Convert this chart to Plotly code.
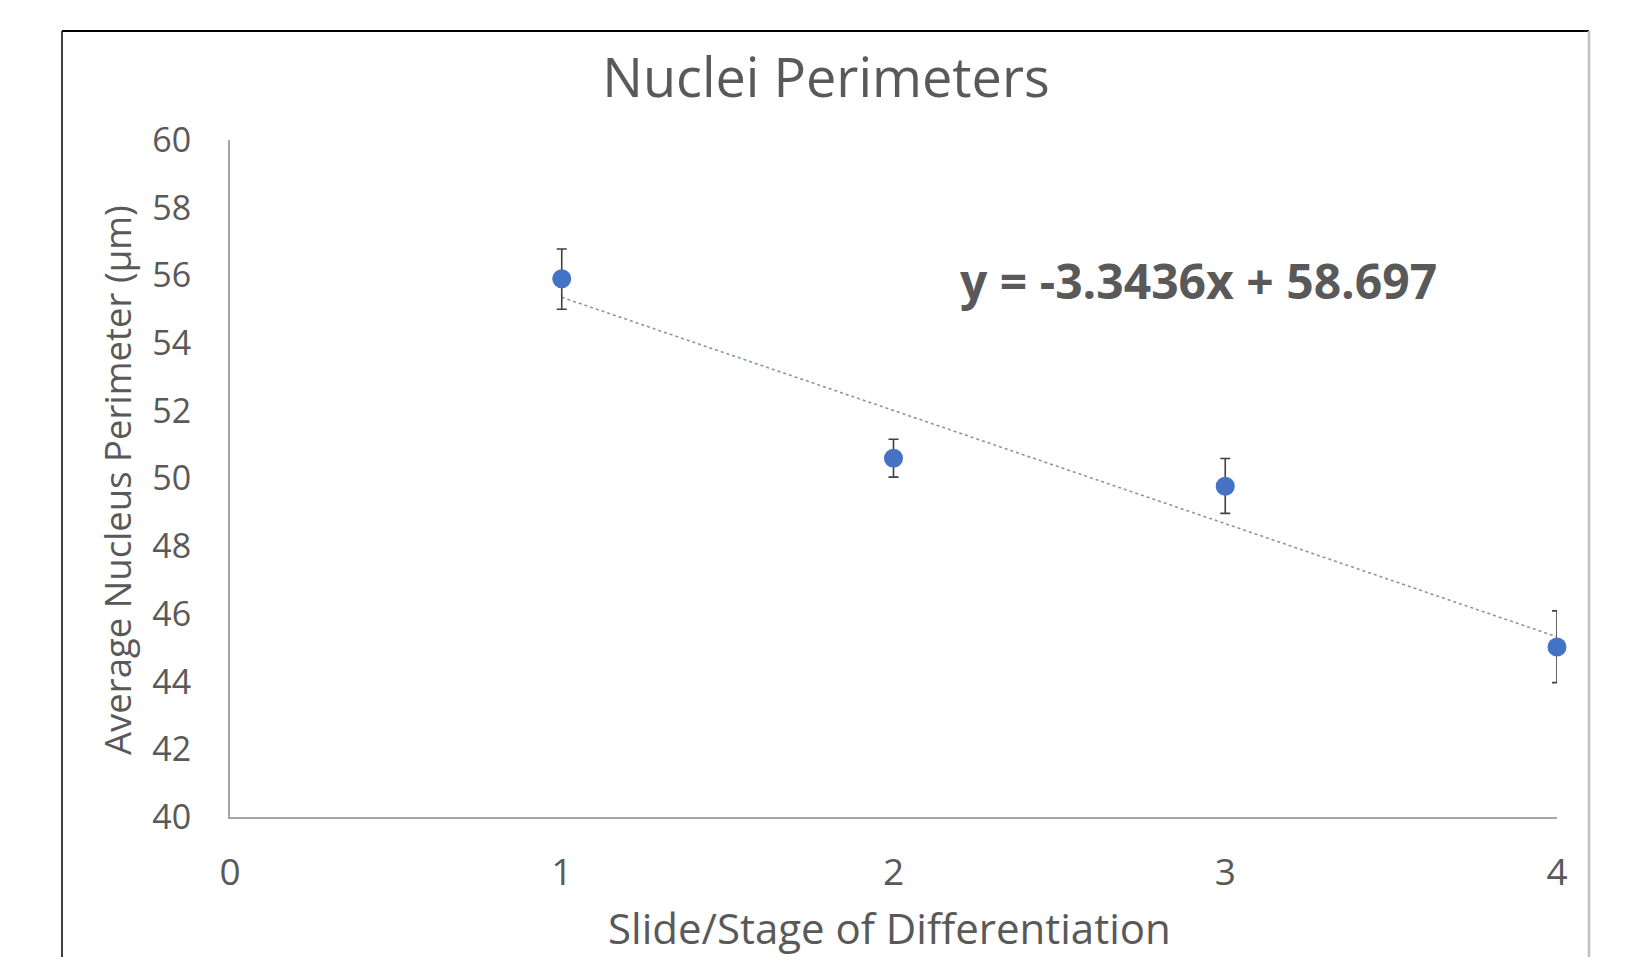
import plotly.graph_objects as go

# Data
stages = [1, 2, 3, 4]
mean_perimeter = [55.9, 50.6, 49.77, 45.02]
error_plus = [0.88, 0.56, 0.82, 1.07]
error_minus = [0.9, 0.56, 0.8, 1.05]
trend_slope = -3.3436
trend_intercept = 58.697
trend_x = [1, 4]
trend_y = [trend_slope * x + trend_intercept for x in trend_x]
x_ticks = [0, 1, 2, 3, 4]
y_ticks = [40, 42, 44, 46, 48, 50, 52, 54, 56, 58, 60]

FONT = "Open Sans"
TXT = "#595959"

fig = go.Figure()
fig.add_trace(go.Scatter(
    x=trend_x, y=trend_y, mode="lines",
    line=dict(color="#8497B0", width=1.6, dash="dot"),
    showlegend=False, hoverinfo="skip", cliponaxis=False,
))
fig.add_trace(go.Scatter(
    x=stages, y=mean_perimeter, mode="markers",
    marker=dict(color="#4472C4", size=19),
    error_y=dict(type="data", symmetric=False, array=error_plus, arrayminus=error_minus,
                 color="#404040", thickness=1.6, width=5),
    showlegend=False, cliponaxis=False,
))

W, H = 1625, 957
L, R, T, B = 230, 1625 - 1557, 140, 957 - 817
pw, ph = W - L - R, H - T - B

def px(xp):
    return (xp - L) / pw

def py(yp):
    return (H - B - yp) / ph

fig.update_layout(
    width=W, height=H,
    margin=dict(l=L, r=R, t=T, b=B),
    paper_bgcolor="white", plot_bgcolor="white",
    font=dict(family=FONT, color=TXT),
    title=dict(text="Nuclei Perimeters", x=826 / W, xanchor="center",
               y=1 - 78 / H, yanchor="middle",
               font=dict(family=FONT, size=54, color=TXT)),
    xaxis=dict(range=[0, 4], tickvals=x_ticks, showgrid=False, zeroline=False,
               showline=True, linecolor="#A6A6A6", linewidth=2,
               ticks="", ticklabelstandoff=22,
               tickfont=dict(family=FONT, size=37, color=TXT)),
    yaxis=dict(range=[40, 60], tickvals=y_ticks, showgrid=False, zeroline=False,
               showline=True, linecolor="#A6A6A6", linewidth=2,
               ticks="", ticklabelstandoff=30,
               tickfont=dict(family=FONT, size=34, color=TXT)),
    annotations=[
        dict(text="Average Nucleus Perimeter (µm)", x=px(117), y=py(480),
             xref="paper", yref="paper", showarrow=False, textangle=-90,
             xanchor="center", yanchor="middle",
             font=dict(family=FONT, size=36.5, color=TXT)),
        dict(text="Slide/Stage of Differentiation", x=px(889), y=py(958),
             xref="paper", yref="paper", showarrow=False,
             xanchor="center", yanchor="bottom",
             font=dict(family=FONT, size=42, color=TXT)),
        dict(text="<b>y = -3.3436x + 58.697</b>", x=px(1198), y=py(280),
             xref="paper", yref="paper", showarrow=False,
             xanchor="center", yanchor="middle",
             font=dict(family=FONT, size=48, color=TXT)),
    ],
    shapes=[
        dict(type="line", xref="paper", yref="paper", x0=px(62), x1=px(1589),
             y0=py(31), y1=py(31), line=dict(color="black", width=2)),
        dict(type="line", xref="paper", yref="paper", x0=px(62), x1=px(62),
             y0=py(31), y1=py(1000), line=dict(color="black", width=1.5)),
        dict(type="line", xref="paper", yref="paper", x0=px(1589), x1=px(1589),
             y0=py(31), y1=py(1000), line=dict(color="#BFBFBF", width=2.5)),
    ],
)

fig.write_html("out.html")
